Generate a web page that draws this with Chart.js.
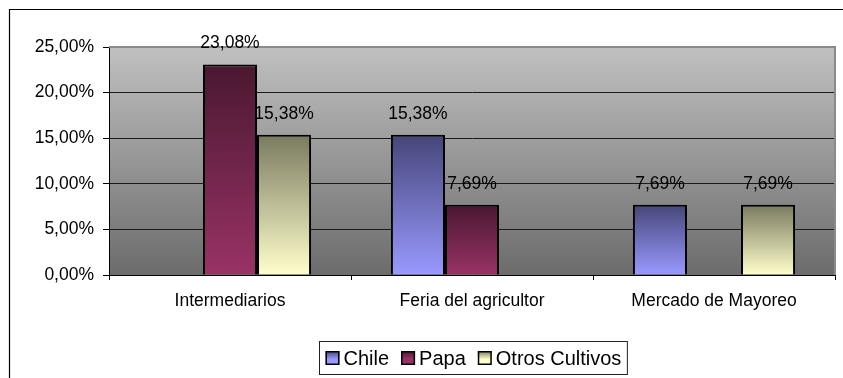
<!DOCTYPE html>
<html>
<head>
<meta charset="utf-8">
<script src="https://cdn.jsdelivr.net/npm/chart.js@4/dist/chart.umd.min.js"></script>
<style>
  html, body { margin: 0; padding: 0; background: #ffffff; }
  #wrap { width: 843px; height: 378px; }
</style>
</head>
<body>
<div id="wrap"><canvas id="chart" width="843" height="378"></canvas></div>
<script>
// Categories and series values (percent)
const categories = ['Intermediarios', 'Feria del agricultor', 'Mercado de Mayoreo'];
const seriesNames = ['Chile', 'Papa', 'Otros Cultivos'];
const chileValues = [null, 15.38, 7.69];
const papaValues = [23.08, 7.69, null];
const otrosValues = [15.38, null, 7.69];
const yTickValues = [0, 5, 10, 15, 20, 25];

// Gradient stops per series: [top colour, bottom colour]
const seriesGradients = [
  ['#46467a', '#9999ff'],
  ['#4a1830', '#993366'],
  ['#7a7a60', '#ffffcc']
];

const FONT = '"Liberation Sans", Arial, sans-serif';

function fmtPct(v) {
  return v.toFixed(2).replace('.', ',') + '%';
}

function barFill(seriesIndex) {
  return function (ctx) {
    const [topC, botC] = seriesGradients[seriesIndex];
    const chart = ctx.chart;
    if (!chart.chartArea || ctx.type !== 'data' || ctx.raw == null) return botC;
    const y = chart.scales.y;
    const top = y.getPixelForValue(ctx.raw);
    const bottom = y.getPixelForValue(0);
    const g = chart.ctx.createLinearGradient(0, top, 0, bottom);
    g.addColorStop(0, topC);
    g.addColorStop(1, botC);
    return g;
  };
}

// Frame, grey plot background and borders
const backdrop = {
  id: 'backdrop',
  beforeDraw(chart) {
    const c = chart.ctx;
    const a = chart.chartArea;
    c.save();
    c.fillStyle = '#ffffff';
    c.fillRect(0, 0, chart.width, chart.height);
    // outer chart frame (left and top edges)
    c.strokeStyle = '#000000';
    c.lineWidth = 1.2;
    c.beginPath();
    c.moveTo(9.5, chart.height + 5);
    c.lineTo(9.5, 9.5);
    c.lineTo(chart.width + 5, 9.5);
    c.stroke();
    // plot area gradient
    const g = c.createLinearGradient(0, a.top, 0, a.bottom);
    g.addColorStop(0, '#c0c0c0');
    g.addColorStop(1, '#6c6c6c');
    c.fillStyle = g;
    c.fillRect(a.left, a.top, a.right - a.left, a.bottom - a.top);
    c.restore();
  },
  afterDatasetsDraw(chart) {
    const c = chart.ctx;
    const a = chart.chartArea;
    c.save();
    c.strokeStyle = '#8a8a8a';
    c.lineWidth = 2;
    c.beginPath();
    c.moveTo(a.left, a.top);
    c.lineTo(a.right, a.top);
    c.lineTo(a.right, a.bottom);
    c.stroke();
    c.restore();
  }
};

// Value labels above each bar
const valueLabels = {
  id: 'valueLabels',
  afterDatasetsDraw(chart) {
    const c = chart.ctx;
    c.save();
    c.font = '17.5px ' + FONT;
    c.fillStyle = '#000000';
    c.textAlign = 'center';
    c.textBaseline = 'middle';
    chart.data.datasets.forEach((ds, i) => {
      const meta = chart.getDatasetMeta(i);
      meta.data.forEach((bar, j) => {
        const v = ds.data[j];
        if (v == null) return;
        c.fillText(fmtPct(v), bar.x, bar.y - 21);
      });
    });
    c.restore();
  }
};

// Boxed legend below the axis labels
const boxLegend = {
  id: 'boxLegend',
  afterDraw(chart) {
    const c = chart.ctx;
    c.save();
    c.font = '20px ' + FONT;
    const sq = 14, gapAfterSq = 4, gapItems = 12, pad = 6;
    const widths = seriesNames.map(n => c.measureText(n).width);
    let content = 0;
    widths.forEach((w, i) => { content += sq + gapAfterSq + w + (i < widths.length - 1 ? gapItems : 0); });
    const boxW = content + pad * 2;
    const cx = 472.5;
    const boxL = Math.round(cx - boxW / 2) + 0.5;
    const boxT = 341.5, boxH = 33;
    c.strokeStyle = '#222222';
    c.lineWidth = 1;
    c.strokeRect(boxL, boxT, boxW, boxH);
    const midY = boxT + boxH / 2;
    let x = boxL + pad;
    seriesNames.forEach((n, i) => {
      const [topC, botC] = seriesGradients[i];
      const g = c.createLinearGradient(0, midY - sq / 2, 0, midY + sq / 2);
      g.addColorStop(0, topC);
      g.addColorStop(0.6, botC);
      g.addColorStop(1, botC);
      c.fillStyle = g;
      c.fillRect(x, midY - sq / 2, sq, sq);
      c.strokeStyle = '#000000';
      c.lineWidth = 1.5;
      c.strokeRect(x + 0.75, midY - sq / 2 + 0.75, sq - 1.5, sq - 1.5);
      c.fillStyle = '#000000';
      c.textAlign = 'left';
      c.textBaseline = 'middle';
      c.fillText(n, x + sq + gapAfterSq, midY + 1);
      x += sq + gapAfterSq + widths[i] + gapItems;
    });
    c.restore();
  }
};

const datasetValues = [chileValues, papaValues, otrosValues];

new Chart(document.getElementById('chart'), {
  type: 'bar',
  data: {
    labels: categories,
    datasets: seriesNames.map((name, i) => ({
      label: name,
      data: datasetValues[i],
      backgroundColor: barFill(i),
      borderColor: '#000000',
      borderWidth: 2,
      categoryPercentage: 0.67,
      barPercentage: 1.0
    }))
  },
  options: {
    responsive: false,
    animation: false,
    devicePixelRatio: 1,
    layout: { padding: { top: 47, right: 8, bottom: 0, left: 0 } },
    plugins: {
      legend: { display: false },
      tooltip: { enabled: false },
      title: { display: false }
    },
    scales: {
      x: {
        grid: {
          offset: true,
          drawOnChartArea: false,
          drawTicks: true,
          tickLength: 5,
          color: '#000000',
          tickColor: '#000000'
        },
        border: { display: true, color: '#000000', width: 1 },
        ticks: {
          color: '#000000',
          font: { family: FONT, size: 17.5 },
          padding: 11,
          maxRotation: 0,
          autoSkip: false
        },
        afterFit(scale) { scale.height = 103; }
      },
      y: {
        min: 0,
        max: 25,
        afterBuildTicks(scale) { scale.ticks = yTickValues.map(v => ({ value: v })); },
        grid: {
          color: ctx => (ctx.tick && ctx.tick.value === 25) ? 'rgba(0,0,0,0)' : '#1a1a1a',
          tickColor: '#000000',
          tickLength: 6,
          lineWidth: 1
        },
        border: { display: true, color: '#000000', width: 1 },
        ticks: {
          color: '#000000',
          font: { family: FONT, size: 17.5 },
          padding: 9,
          callback: v => fmtPct(v)
        },
        afterFit(scale) { scale.width = 109; }
      }
    }
  },
  plugins: [backdrop, valueLabels, boxLegend]
});
</script>
</body>
</html>
